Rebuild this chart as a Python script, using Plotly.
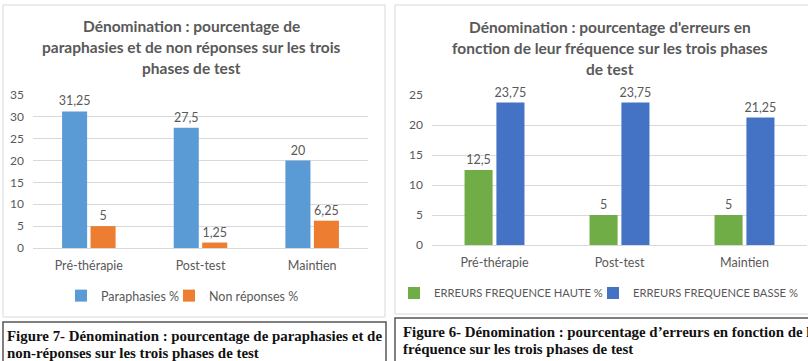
import plotly.graph_objects as go

# ---- data ----
phases = ["Pré-thérapie", "Post-test", "Maintien"]
paraphasies = [31.25, 27.5, 20]
non_reponses = [5, 1.25, 6.25]
freq_haute = [12.5, 5, 5]
freq_basse = [23.75, 23.75, 21.25]

left_title = ["Dénomination : pourcentage de",
              "paraphasies et de non réponses sur les trois",
              "phases de test"]
right_title = ["Dénomination : pourcentage d'erreurs en",
               "fonction de leur fréquence sur les trois phases",
               "de test"]
left_caption = ["Figure 7- Dénomination : pourcentage de paraphasies et de",
                "non-réponses sur les trois phases de test"]
right_caption = ["Figure 6- Dénomination : pourcentage d’erreurs en fonction de leur",
                 "fréquence sur les trois phases de test"]

W, H = 808, 361
def px(x): return x / W
def py(y): return 1 - y / H
def fmt(v): return ("%g" % v).replace(".", ",")

GRAY = "#595959"
FONT = "Lato"

fig = go.Figure()
fig.add_trace(go.Bar(x=phases, y=paraphasies, name="Paraphasies %", marker_color="#5B9BD5",
                     text=[fmt(v) for v in paraphasies], textposition="outside",
                     xaxis="x", yaxis="y", legend="legend", legendwidth=63))
fig.add_trace(go.Bar(x=phases, y=non_reponses, name="Non réponses %", marker_color="#ED7D31",
                     text=[fmt(v) for v in non_reponses], textposition="outside",
                     xaxis="x", yaxis="y", legend="legend", legendwidth=100))
fig.add_trace(go.Bar(x=phases, y=freq_haute, name="ERREURS FREQUENCE HAUTE %", marker_color="#70AD47",
                     text=[fmt(v) for v in freq_haute], textposition="outside",
                     xaxis="x2", yaxis="y2", legend="legend2", legendwidth=154))
fig.add_trace(go.Bar(x=phases, y=freq_basse, name="ERREURS FREQUENCE BASSE %", marker_color="#4472C4",
                     text=[fmt(v) for v in freq_basse], textposition="outside",
                     xaxis="x2", yaxis="y2", legend="legend2", legendwidth=175))
fig.update_traces(textfont=dict(family=FONT, size=12.5, color=GRAY), cliponaxis=False,
                  constraintext="none", marker_line_width=0)

axis_common = dict(showgrid=False, ticks="", tickfont=dict(family=FONT, size=12.5, color=GRAY),
                   showline=True, linecolor="#D9D9D9", linewidth=1, ticklabelstandoff=6,
                   fixedrange=True, automargin=False)
yaxis_common = dict(showgrid=True, gridcolor="#D9D9D9", gridwidth=1, zeroline=False, dtick=5,
                    tickfont=dict(family=FONT, size=12, color=GRAY), ticklabelstandoff=8,
                    fixedrange=True, automargin=False)

fig.update_layout(
    width=W, height=H, margin=dict(l=0, r=0, t=0, b=0, pad=0, autoexpand=False),
    paper_bgcolor="white", plot_bgcolor="white",
    barmode="group", bargap=0.49, bargroupgap=0.12,
    xaxis=dict(domain=[px(33), px(368)], anchor="y", **axis_common),
    yaxis=dict(domain=[py(248), py(95)], range=[0, 35], anchor="x", **yaxis_common),
    xaxis2=dict(domain=[px(432), px(807)], anchor="y2", **axis_common),
    yaxis2=dict(domain=[py(245), py(95)], range=[0, 25], anchor="x2", **yaxis_common),
    legend=dict(orientation="h", x=px(61), y=py(296), xanchor="left", yanchor="middle",
                font=dict(family=FONT, size=12.5, color=GRAY), itemwidth=30,
                bgcolor="rgba(0,0,0,0)", traceorder="normal"),
    legend2=dict(orientation="h", x=px(394), y=py(293), xanchor="left", yanchor="middle",
                 font=dict(family=FONT, size=11.2, color=GRAY), itemwidth=30,
                 bgcolor="rgba(0,0,0,0)", traceorder="normal"),
    showlegend=True,
)

shapes = [
    dict(type="rect", xref="paper", yref="paper", x0=px(3), x1=px(385), y0=py(317), y1=py(5),
         line=dict(color="#D9D9D9", width=1)),
    dict(type="rect", xref="paper", yref="paper", x0=px(395), x1=px(815), y0=py(314), y1=py(5),
         line=dict(color="#D9D9D9", width=1)),
    dict(type="rect", xref="paper", yref="paper", x0=px(3), x1=px(386), y0=py(365), y1=py(322),
         line=dict(color="#555555", width=1.5)),
    dict(type="rect", xref="paper", yref="paper", x0=px(395), x1=px(815), y0=py(365), y1=py(318),
         line=dict(color="#555555", width=1.5)),
]
fig.update_layout(shapes=shapes)

annotations = []
for i, line in enumerate(left_title):
    annotations.append(dict(text="<b>%s</b>" % line, x=px(191.5), y=py(26.5 + 20.8 * i), xref="paper", yref="paper",
                            showarrow=False, xanchor="center", yanchor="middle",
                            font=dict(family=FONT, size=15.5, color=GRAY)))
for i, line in enumerate(right_title):
    annotations.append(dict(text="<b>%s</b>" % line, x=px(610), y=py(27 + 20.8 * i), xref="paper", yref="paper",
                            showarrow=False, xanchor="center", yanchor="middle",
                            font=dict(family=FONT, size=15.5, color=GRAY)))
for i, line in enumerate(left_caption):
    annotations.append(dict(text="<b>%s</b>" % line, x=px(5), y=py(336 + 17 * i), xref="paper", yref="paper",
                            showarrow=False, xanchor="left", yanchor="middle",
                            font=dict(family="Liberation Serif", size=14.9, color="#111111")))
for i, line in enumerate(right_caption):
    annotations.append(dict(text="<b>%s</b>" % line, x=px(401), y=py(332 + 17 * i), xref="paper", yref="paper",
                            showarrow=False, xanchor="left", yanchor="middle",
                            font=dict(family="Liberation Serif", size=14.9, color="#111111")))
fig.update_layout(annotations=annotations)

fig.write_html("out.html")
